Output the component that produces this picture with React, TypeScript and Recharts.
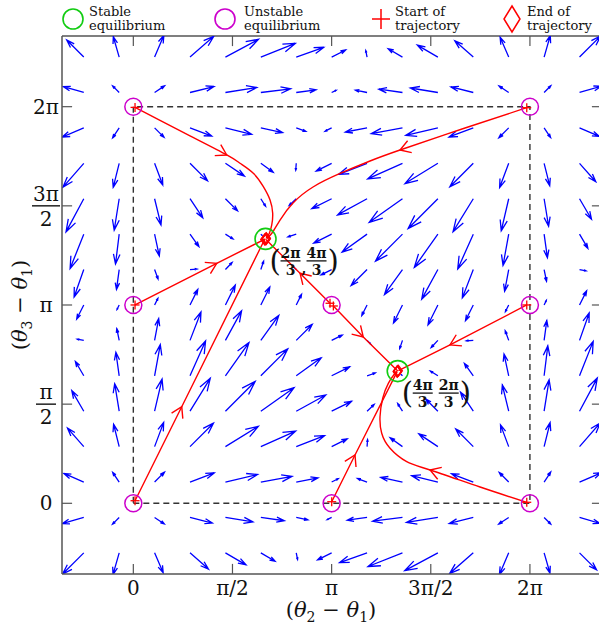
import React from "react";
import { ComposedChart, Line, Scatter, XAxis, YAxis, ReferenceLine } from "recharts";

const SERIF = "'DejaVu Serif', 'Liberation Serif', serif";
const BLUE = "#0000ff";
const RED = "#ff0000";
const MAGENTA = "#cc00cc";
const GREEN = "#11cc11";
const AXIS = "#555555";
const INK = "#111111";

// axis ranges, radians
const X_MIN = -1.13;
const X_MAX = 7.425;
const Y_MIN = -1.12;
const Y_MAX = 7.403;

const tickValues = [0, 1.5708, 3.1416, 4.7124, 6.2832];
const xTickLabels = ["0", "π/2", "π", "3π/2", "2π"];
const yTickLabels = [["0"], ["π", "2"], ["π"], ["3π", "2"], ["2π"]];

// quiver grid
const gridX = [-0.785, -0.224, 0.337, 0.898, 1.459, 2.02, 2.581, 3.142, 3.703, 4.264, 4.825, 5.386, 5.947, 6.508, 7.069];
const gridY = [-0.785, -0.224, 0.337, 0.898, 1.459, 2.02, 2.581, 3.142, 3.703, 4.264, 4.825, 5.386, 5.947, 6.508, 7.069];

// horizontal component, one row per gridY value
const fieldU = [
  [-2.12, -0.62, 0.86, 1.85, 2.06, 1.43, 0.13, -1.41, -2.75, -3.45, -3.32, -2.38, -0.93, 0.59, 1.71],
  [-2.17, -0.67, 0.97, 2.24, 2.76, 2.36, 1.17, -0.45, -1.99, -3.0, -3.15, -2.41, -1.0, 0.66, 2.04],
  [-1.99, -0.65, 0.99, 2.43, 3.22, 3.13, 2.18, 0.66, -0.96, -2.18, -2.63, -2.18, -0.95, 0.66, 2.18],
  [-1.63, -0.56, 0.91, 2.35, 3.3, 3.49, 2.84, 1.56, 0.05, -1.24, -1.91, -1.76, -0.82, 0.6, 2.08],
  [-1.2, -0.45, 0.75, 2.03, 2.98, 3.33, 2.96, 1.99, 0.71, -0.48, -1.22, -1.28, -0.64, 0.5, 1.78],
  [-0.84, -0.33, 0.57, 1.56, 2.36, 2.7, 2.5, 1.8, 0.83, -0.12, -0.76, -0.89, -0.47, 0.37, 1.37],
  [-0.66, -0.24, 0.41, 1.1, 1.62, 1.8, 1.6, 1.06, 0.37, -0.28, -0.67, -0.7, -0.35, 0.27, 0.97],
  [-0.71, -0.22, 0.33, 0.78, 0.99, 0.9, 0.53, 0, -0.53, -0.9, -0.99, -0.78, -0.33, 0.22, 0.71],
  [-0.97, -0.27, 0.35, 0.7, 0.67, 0.28, -0.37, -1.06, -1.6, -1.8, -1.62, -1.1, -0.41, 0.24, 0.66],
  [-1.37, -0.37, 0.47, 0.89, 0.76, 0.12, -0.83, -1.8, -2.5, -2.7, -2.36, -1.56, -0.57, 0.33, 0.84],
  [-1.78, -0.5, 0.64, 1.28, 1.22, 0.48, -0.71, -1.99, -2.96, -3.33, -2.98, -2.03, -0.75, 0.45, 1.2],
  [-2.08, -0.6, 0.82, 1.76, 1.91, 1.24, -0.05, -1.56, -2.84, -3.49, -3.3, -2.35, -0.91, 0.56, 1.63],
  [-2.18, -0.66, 0.95, 2.18, 2.63, 2.18, 0.96, -0.66, -2.18, -3.13, -3.22, -2.43, -0.99, 0.65, 1.99],
  [-2.04, -0.66, 1.0, 2.41, 3.15, 3.0, 1.99, 0.45, -1.17, -2.36, -2.76, -2.24, -0.97, 0.67, 2.17],
  [-1.71, -0.59, 0.93, 2.38, 3.32, 3.45, 2.75, 1.41, -0.13, -1.43, -2.06, -1.85, -0.86, 0.62, 2.12],
];

// vertical component
const fieldV = [
  [-2.12, -2.17, -1.99, -1.63, -1.2, -0.84, -0.66, -0.71, -0.97, -1.37, -1.78, -2.08, -2.18, -2.04, -1.71],
  [-0.62, -0.67, -0.65, -0.56, -0.45, -0.33, -0.24, -0.22, -0.27, -0.37, -0.5, -0.6, -0.66, -0.66, -0.59],
  [0.86, 0.97, 0.99, 0.91, 0.75, 0.57, 0.41, 0.33, 0.35, 0.47, 0.64, 0.82, 0.95, 1.0, 0.93],
  [1.85, 2.24, 2.43, 2.35, 2.03, 1.56, 1.1, 0.78, 0.7, 0.89, 1.28, 1.76, 2.18, 2.41, 2.38],
  [2.06, 2.76, 3.22, 3.3, 2.98, 2.36, 1.62, 0.99, 0.67, 0.76, 1.22, 1.91, 2.63, 3.15, 3.32],
  [1.43, 2.36, 3.13, 3.49, 3.33, 2.7, 1.8, 0.9, 0.28, 0.12, 0.48, 1.24, 2.18, 3.0, 3.45],
  [0.13, 1.17, 2.18, 2.84, 2.96, 2.5, 1.6, 0.53, -0.37, -0.83, -0.71, -0.05, 0.96, 1.99, 2.75],
  [-1.41, -0.45, 0.66, 1.56, 1.99, 1.8, 1.06, 0, -1.06, -1.8, -1.99, -1.56, -0.66, 0.45, 1.41],
  [-2.75, -1.99, -0.96, 0.05, 0.71, 0.83, 0.37, -0.53, -1.6, -2.5, -2.96, -2.84, -2.18, -1.17, -0.13],
  [-3.45, -3.0, -2.18, -1.24, -0.48, -0.12, -0.28, -0.9, -1.8, -2.7, -3.33, -3.49, -3.13, -2.36, -1.43],
  [-3.32, -3.15, -2.63, -1.91, -1.22, -0.76, -0.67, -0.99, -1.62, -2.36, -2.98, -3.3, -3.22, -2.76, -2.06],
  [-2.38, -2.41, -2.18, -1.76, -1.28, -0.89, -0.7, -0.78, -1.1, -1.56, -2.03, -2.35, -2.43, -2.24, -1.85],
  [-0.93, -1.0, -0.95, -0.82, -0.64, -0.47, -0.35, -0.33, -0.41, -0.57, -0.75, -0.91, -0.99, -0.97, -0.86],
  [0.59, 0.66, 0.66, 0.6, 0.5, 0.37, 0.27, 0.22, 0.24, 0.33, 0.45, 0.56, 0.65, 0.67, 0.62],
  [1.71, 2.04, 2.18, 2.08, 1.78, 1.37, 0.97, 0.71, 0.66, 0.84, 1.2, 1.63, 1.99, 2.17, 2.12],
];

// trajectories
const traj1 = [
  { x: 0.027, y: 6.272 }, { x: 0.423, y: 6.065 }, { x: 0.898, y: 5.819 }, { x: 1.48, y: 5.518 },
  { x: 1.69, y: 5.387 }, { x: 1.901, y: 5.228 }, { x: 2.06, y: 5.016 }, { x: 2.166, y: 4.805 },
  { x: 2.208, y: 4.594 }, { x: 2.193, y: 4.409 }, { x: 2.155, y: 4.278 }, { x: 2.105, y: 4.2 },
];
const traj2 = [
  { x: 6.233, y: 6.267 }, { x: 5.255, y: 5.946 }, { x: 4.225, y: 5.597 }, { x: 3.75, y: 5.423 },
  { x: 3.275, y: 5.225 }, { x: 2.847, y: 5.011 }, { x: 2.53, y: 4.758 }, { x: 2.324, y: 4.488 },
  { x: 2.197, y: 4.282 }, { x: 2.11, y: 4.195 },
];
const traj3 = [{ x: 0.027, y: 3.142 }, { x: 1.321, y: 3.802 }, { x: 2.094, y: 4.189 }];
const traj4 = [{ x: 0.027, y: 0.041 }, { x: 0.767, y: 1.53 }, { x: 2.08, y: 4.18 }];
const traj5 = [{ x: 3.169, y: 3.126 }, { x: 3.643, y: 2.635 }, { x: 4.189, y: 2.094 }];
const traj6 = [{ x: 3.116, y: 3.169 }, { x: 2.641, y: 3.644 }, { x: 2.1, y: 4.18 }];
const traj7 = [{ x: 6.233, y: 3.142 }, { x: 5.017, y: 2.508 }, { x: 4.2, y: 2.1 }];
const traj8 = [{ x: 3.143, y: 0.025 }, { x: 3.512, y: 0.765 }, { x: 4.18, y: 2.085 }];
const traj9 = [
  { x: 6.233, y: 0.016 }, { x: 5.493, y: 0.258 }, { x: 4.701, y: 0.528 }, { x: 4.331, y: 0.659 },
  { x: 4.067, y: 0.871 }, { x: 3.935, y: 1.109 }, { x: 3.908, y: 1.372 }, { x: 3.951, y: 1.664 },
  { x: 4.04, y: 1.901 }, { x: 4.146, y: 2.06 }, { x: 4.18, y: 2.09 },
];
const trajectories = [traj1, traj2, traj3, traj4, traj5, traj6, traj7, traj8, traj9];
const curved = [true, true, false, false, false, false, false, false, true];
const chevronIndex = [3, 2, 1, 1, 1, 1, 1, 1, 2];

const unstablePts = [
  { x: 0, y: 0 }, { x: 3.1416, y: 0 }, { x: 6.2832, y: 0 },
  { x: 0, y: 3.1416 }, { x: 3.1416, y: 3.1416 }, { x: 6.2832, y: 3.1416 },
  { x: 0, y: 6.2832 }, { x: 6.2832, y: 6.2832 },
];
const stablePts = [
  { x: 2.0944, y: 4.1888, label: ["2π", "4π"] },
  { x: 4.1888, y: 2.0944, label: ["4π", "2π"] },
];
const boxCorners = [
  { x: 0, y: 0 }, { x: 6.2832, y: 0 }, { x: 6.2832, y: 6.2832 }, { x: 0, y: 6.2832 }, { x: 0, y: 0 },
];

// quiver drawing (matlab-like autoscale and arrow heads)
const ARROW_SCALE = 0.158;
const HEAD = 0.33;
const HEAD_W = 0.33;

const quiverPts: { x: number; y: number | null }[] = [];
gridY.forEach((y, i) => {
  gridX.forEach((x, j) => {
    const u = fieldU[i][j] * ARROW_SCALE;
    const v = fieldV[i][j] * ARROW_SCALE;
    const tx = x + u;
    const ty = y + v;
    quiverPts.push(
      { x, y },
      { x: tx, y: ty },
      { x: tx - HEAD * (u + HEAD_W * v), y: ty - HEAD * (v - HEAD_W * u) },
      { x: tx, y: ty },
      { x: tx - HEAD * (u - HEAD_W * v), y: ty - HEAD * (v + HEAD_W * u) },
      { x: tx, y: null }
    );
  });
});

// open chevrons along trajectories
const CHEV_LEN = 0.19;
const CHEV_ANG = 0.55;
const chevronPts: { x: number; y: number | null }[] = [];
trajectories.forEach((pts, k) => {
  const i = chevronIndex[k];
  const a = pts[i - 1];
  const b = pts[i + 1];
  const tip = pts[i];
  const th = Math.atan2(b.y - a.y, b.x - a.x);
  chevronPts.push(
    { x: tip.x - CHEV_LEN * Math.cos(th + CHEV_ANG), y: tip.y - CHEV_LEN * Math.sin(th + CHEV_ANG) },
    { x: tip.x, y: tip.y },
    { x: tip.x - CHEV_LEN * Math.cos(th - CHEV_ANG), y: tip.y - CHEV_LEN * Math.sin(th - CHEV_ANG) },
    { x: tip.x, y: null }
  );
});

const startPts = trajectories.map((t) => t[0]);
const endPts = trajectories.map((t) => t[t.length - 1]);

const TICK_LEN = 0.16;

const tickIndex = (v: number) => tickValues.findIndex((t) => Math.abs(t - v) < 1e-3);

const XTick = (props: any) => {
  const { x, y, payload } = props;
  const i = tickIndex(payload.value);
  return (
    <text x={x} y={y + 21} textAnchor="middle" fontFamily={SERIF} fontSize={20} fill={INK}>
      {xTickLabels[i]}
    </text>
  );
};

const YTick = (props: any) => {
  const { x, y, payload } = props;
  const lab = yTickLabels[tickIndex(payload.value)];
  const cx = x - 16;
  if (!lab) return <g />;
  if (lab.length === 1) {
    return (
      <text x={cx} y={y + 7} textAnchor="middle" fontFamily={SERIF} fontSize={20} fill={INK}>
        {lab[0]}
      </text>
    );
  }
  const w = lab[0].length > 1 ? 28 : 20;
  return (
    <g fontFamily={SERIF} fontSize={20} fill={INK}>
      <text x={cx} y={y - 5} textAnchor="middle">{lab[0]}</text>
      <line x1={cx - w / 2} x2={cx + w / 2} y1={y} y2={y} stroke={INK} strokeWidth={1.4} />
      <text x={cx} y={y + 20} textAnchor="middle">{lab[1]}</text>
    </g>
  );
};

const Unstable = (p: any) => (
  <circle cx={p.cx} cy={p.cy} r={8.5} fill="none" stroke={MAGENTA} strokeWidth={1.5} />
);

const Stable = (p: any) => {
  const { cx, cy, payload } = p;
  const yc = cy + 22;
  const f1 = cx + 25;
  const f2 = cx + 51;
  return (
    <g>
      <circle cx={cx} cy={cy} r={10.5} fill="none" stroke={GREEN} strokeWidth={1.6} />
      <g fontFamily={SERIF} fill={INK}>
        <text x={cx + 4} y={yc + 10} fontSize={29}>(</text>
        <text x={f1} y={yc - 3} fontSize={14} fontWeight="bold" textAnchor="middle">{payload.label[0]}</text>
        <line x1={f1 - 10} x2={f1 + 10} y1={yc} y2={yc} stroke={INK} strokeWidth={1.3} />
        <text x={f1} y={yc + 14} fontSize={14} fontWeight="bold" textAnchor="middle">3</text>
        <text x={cx + 36} y={yc + 12} fontSize={14} fontWeight="bold">,</text>
        <text x={f2} y={yc - 3} fontSize={14} fontWeight="bold" textAnchor="middle">{payload.label[1]}</text>
        <line x1={f2 - 10} x2={f2 + 10} y1={yc} y2={yc} stroke={INK} strokeWidth={1.3} />
        <text x={f2} y={yc + 14} fontSize={14} fontWeight="bold" textAnchor="middle">3</text>
        <text x={cx + 62} y={yc + 10} fontSize={29}>)</text>
      </g>
    </g>
  );
};

const Plus = (p: any) => (
  <g stroke={RED} strokeWidth={1.3}>
    <line x1={p.cx - 4.5} x2={p.cx + 4.5} y1={p.cy} y2={p.cy} />
    <line x1={p.cx} x2={p.cx} y1={p.cy - 4.5} y2={p.cy + 4.5} />
  </g>
);

const Diamond = (p: any) => (
  <path
    d={`M${p.cx},${p.cy - 5.5} L${p.cx + 4},${p.cy} L${p.cx},${p.cy + 5.5} L${p.cx - 4},${p.cy} Z`}
    fill="none"
    stroke={RED}
    strokeWidth={1.2}
  />
);

const Theta = ({ sub }: { sub: string }) => (
  <>
    <tspan fontStyle="italic">θ</tspan>
    <tspan fontSize={14} dy={5}>{sub}</tspan>
  </>
);

export default function App() {
  return (
    <div
      style={{
        position: "absolute",
        left: 0,
        top: 0,
        width: 599,
        height: 631,
        overflow: "hidden",
        background: "#fff",
      }}
    >
      <ComposedChart width={610} height={631} margin={{ top: 36, right: 8, bottom: 17, left: 6 }}>
        <XAxis
          type="number"
          dataKey="x"
          domain={[X_MIN, X_MAX]}
          allowDataOverflow
          ticks={tickValues}
          interval={0}
          tickLine={false}
          tickSize={0}
          tickMargin={0}
          height={40}
          axisLine={{ stroke: AXIS, strokeWidth: 1.5 }}
          tick={XTick}
        />
        <YAxis
          type="number"
          dataKey="y"
          domain={[Y_MIN, Y_MAX]}
          allowDataOverflow
          ticks={tickValues}
          interval={0}
          tickLine={false}
          tickSize={0}
          tickMargin={0}
          width={56}
          axisLine={{ stroke: AXIS, strokeWidth: 1.5 }}
          tick={YTick}
        />
        <ReferenceLine y={Y_MAX} stroke={AXIS} strokeWidth={1.5} ifOverflow="visible" />
        <ReferenceLine x={X_MAX} stroke={AXIS} strokeWidth={1.5} ifOverflow="visible" />
        {tickValues.map((t) => (
          <ReferenceLine key={`b${t}`} segment={[{ x: t, y: Y_MIN }, { x: t, y: Y_MIN + TICK_LEN }]} stroke={AXIS} strokeWidth={1.2} ifOverflow="visible" />
        ))}
        {tickValues.map((t) => (
          <ReferenceLine key={`t${t}`} segment={[{ x: t, y: Y_MAX }, { x: t, y: Y_MAX - TICK_LEN }]} stroke={AXIS} strokeWidth={1.2} ifOverflow="visible" />
        ))}
        {tickValues.map((t) => (
          <ReferenceLine key={`l${t}`} segment={[{ x: X_MIN, y: t }, { x: X_MIN + TICK_LEN, y: t }]} stroke={AXIS} strokeWidth={1.2} ifOverflow="visible" />
        ))}
        {tickValues.map((t) => (
          <ReferenceLine key={`r${t}`} segment={[{ x: X_MAX, y: t }, { x: X_MAX - TICK_LEN, y: t }]} stroke={AXIS} strokeWidth={1.2} ifOverflow="visible" />
        ))}

        <Line data={quiverPts} dataKey="y" type="linear" stroke={BLUE} strokeWidth={1.3} dot={false} activeDot={false} isAnimationActive={false} />
        <Line data={boxCorners} dataKey="y" type="linear" stroke="#333" strokeWidth={1.4} strokeDasharray="6 4" dot={false} activeDot={false} isAnimationActive={false} />

        {trajectories.map((t, k) => (
          <Line key={`traj${k}`} data={t} dataKey="y" type={curved[k] ? "natural" : "linear"} stroke={RED} strokeWidth={1.4} dot={false} activeDot={false} isAnimationActive={false} />
        ))}
        <Line data={chevronPts} dataKey="y" type="linear" stroke={RED} strokeWidth={1.4} dot={false} activeDot={false} isAnimationActive={false} />

        <Scatter data={unstablePts} shape={Unstable} isAnimationActive={false} />
        <Scatter data={stablePts} shape={Stable} isAnimationActive={false} />
        <Scatter data={startPts} shape={Plus} isAnimationActive={false} />
        <Scatter data={endPts} shape={Diamond} isAnimationActive={false} />
      </ComposedChart>

      <svg width={599} height={631} style={{ position: "absolute", left: 0, top: 0, pointerEvents: "none" }}>
        <g fontFamily={SERIF} fontSize={13} fill={INK}>
          <circle cx={73} cy={19} r={10} fill="none" stroke={GREEN} strokeWidth={1.6} />
          <text x={89} y={16}>Stable</text>
          <text x={89} y={30}>equilibrium</text>

          <circle cx={225} cy={19} r={10} fill="none" stroke={MAGENTA} strokeWidth={1.6} />
          <text x={244} y={16}>Unstable</text>
          <text x={244} y={30}>equilibrium</text>

          <line x1={372} x2={390} y1={19} y2={19} stroke={RED} strokeWidth={1.5} />
          <line x1={381} x2={381} y1={9} y2={29} stroke={RED} strokeWidth={1.5} />
          <text x={395} y={16}>Start of</text>
          <text x={395} y={30}>trajectory</text>

          <path d="M512,6 L520,19 L512,32 L504,19 Z" fill="none" stroke={RED} strokeWidth={1.5} />
          <text x={527} y={16}>End of</text>
          <text x={527} y={30}>trajectory</text>
        </g>

        <text x={331} y={617} textAnchor="middle" fontFamily={SERIF} fontSize={21} fill={INK}>
          (<Theta sub="2" />
          <tspan dy={-5}> − </tspan>
          <Theta sub="1" />
          <tspan dy={-5}>)</tspan>
        </text>

        <text transform="translate(27,305) rotate(-90)" textAnchor="middle" fontFamily={SERIF} fontSize={21} fill={INK}>
          (<Theta sub="3" />
          <tspan dy={-5}> − </tspan>
          <Theta sub="1" />
          <tspan dy={-5}>)</tspan>
        </text>
      </svg>
    </div>
  );
}
